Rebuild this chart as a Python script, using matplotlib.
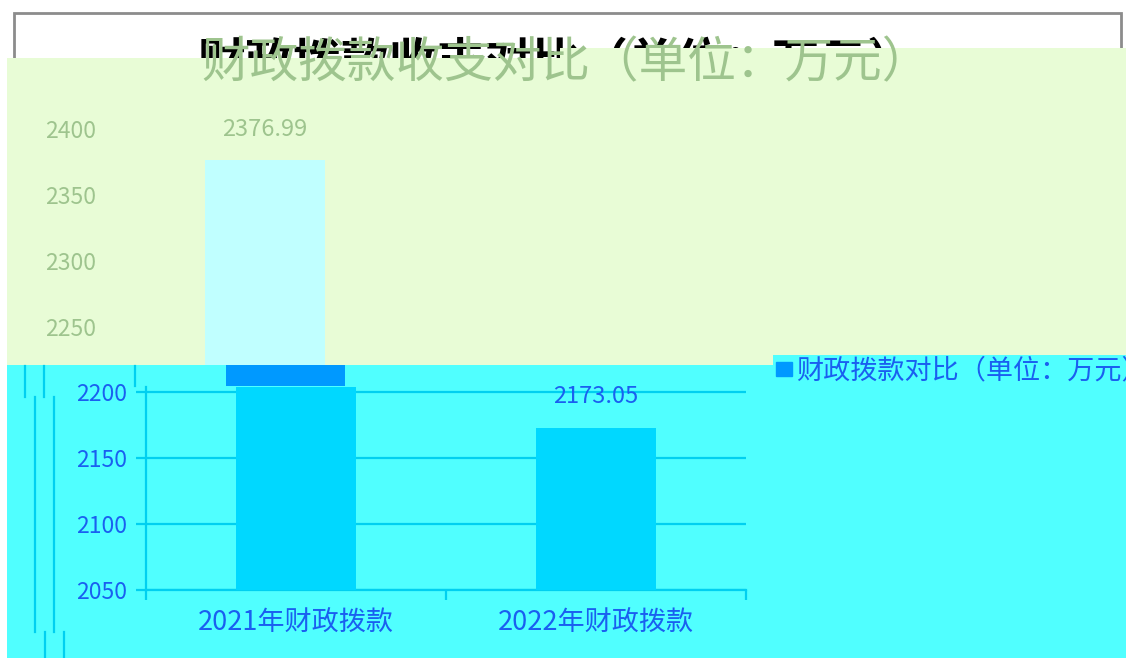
import matplotlib
matplotlib.use('Agg')
import matplotlib.pyplot as plt
from matplotlib.patches import Rectangle, Patch

plt.rcParams['font.family'] = ['Noto Sans CJK SC', 'DejaVu Sans']

# data
categories = ['2021年财政拨款', '2022年财政拨款']
values = [2376.99, 2173.05]
yticks_main = [2050, 2100, 2150, 2200]
yticks_ghost = [2250, 2300, 2350, 2400]
title = '财政拨款收支对比（单位：万元）'
series_name = '财政拨款对比（单位：万元）'

W, H = 1126, 658
cyan_bg = '#50ffff'
bar_c = '#00d8ff'
line_c = '#00d0f0'
blue_txt = '#1a5ff0'
green_bg = '#e8fcd6'
green_txt = '#9ec48e'


def fx(px):
    return px / W


def fy(py):
    return 1 - py / H


def px_axes(z):
    a = fig.add_axes([0, 0, 1, 1], zorder=z)
    a.set_xlim(0, W)
    a.set_ylim(H, 0)
    a.axis('off')
    a.patch.set_alpha(0)
    return a


fig = plt.figure(figsize=(W / 100, H / 100), dpi=100)
fig.patch.set_facecolor('white')

# back layer: frame + black title
bg = px_axes(0)
bg.add_patch(Rectangle((14, 13), 1107, 600, fill=False, ec='#8c8c8c', lw=2))
bg.text(557, 64, title, ha='center', va='center', fontsize=34.5,
        fontweight='bold', color='black')

# green layer
gp = px_axes(1)
gp.add_patch(Rectangle((7, 58), 560 - 7, 365 - 58, fc=green_bg, ec='none'))
gp.add_patch(Rectangle((560, 48), W - 560, 365 - 48, fc=green_bg, ec='none'))
gp.text(566, 64, title, ha='center', va='center', fontsize=35, color=green_txt)

# ghost chart in green layer
gx = fig.add_axes([fx(115), fy(590), fx(715) - fx(115), fy(103) - fy(590)], zorder=2)
gx.patch.set_alpha(0)
gx.set_xlim(-0.5, 1.5)
gx.set_ylim(2050, 2420)
gx.bar(range(len(values)), values, width=0.4, color='#c0ffff')
gx.annotate(f'{values[0]:.2f}', (0, values[0]), xytext=(0, 22), textcoords='offset points',
            ha='center', va='center', fontsize=17, color=green_txt)
for s in gx.spines.values():
    s.set_visible(False)
gx.set_yticks(yticks_ghost)
gx.tick_params(axis='y', length=0, pad=13.7, labelsize=16.5, labelcolor=green_txt)
gx.set_xticks([])

# cyan layer
cp = px_axes(3)
cp.add_patch(Rectangle((7, 365), W - 7, H - 365, fc=cyan_bg, ec='none'))
cp.add_patch(Rectangle((773, 355), W - 773, 10, fc=cyan_bg, ec='none'))
cp.add_patch(Rectangle((226, 365), 119, 21, fc='#0099ff', ec='none'))
for x in (25, 44, 135):
    cp.plot([x, x], [366, 397 if x < 100 else 386], color=line_c, lw=1.6)
for x in (35, 54):
    cp.plot([x, x], [397, 632], color=line_c, lw=1.6)
for x in (45, 64):
    cp.plot([x, x], [632, 658], color=line_c, lw=1.6)

# main chart
ax = fig.add_axes([fx(146), fy(590), fx(746) - fx(146), fy(387) - fy(590)], zorder=4)
ax.patch.set_alpha(0)
ax.set_xlim(-0.5, 1.5)
ax.set_ylim(2050, 2204)
ax.bar(range(len(values)), values, width=0.4, color=bar_c, zorder=3)
for i, v in enumerate(values):
    ax.annotate(f'{v:.2f}', (i, v), xytext=(0, 22.5), textcoords='offset points',
                ha='center', va='center', fontsize=17, color=blue_txt,
                annotation_clip=True)
ax.set_yticks(yticks_main)
ax.grid(axis='y', color=line_c, lw=1.6, zorder=0)
ax.spines['top'].set_visible(False)
ax.spines['right'].set_visible(False)
ax.spines['left'].set_color(line_c)
ax.spines['bottom'].set_color(line_c)
ax.spines['left'].set_linewidth(1.6)
ax.spines['bottom'].set_linewidth(1.6)
ax.tick_params(axis='y', length=7.2, width=1.6, color=line_c, pad=6.5,
               labelsize=16.5, labelcolor=blue_txt)
ax.set_xticks([-0.5, 0.5, 1.5])
ax.set_xticklabels([])
ax.set_xticks(range(len(categories)), minor=True)
ax.set_xticklabels(categories, minor=True)
ax.tick_params(axis='x', which='major', length=7.2, width=1.6, color=line_c)
ax.tick_params(axis='x', which='minor', length=0, pad=14, labelsize=19.5,
               labelcolor=blue_txt)

leg = ax.legend(handles=[Patch(color='#0099ff', label=series_name)],
                loc='center left', bbox_to_anchor=(fx(776), fy(371)),
                bbox_transform=fig.transFigure, frameon=False, fontsize=19.5,
                handlelength=0.58, handleheight=0.45, handletextpad=0.15,
                borderpad=0, borderaxespad=0)
for t in leg.get_texts():
    t.set_color(blue_txt)

fig.savefig('out.png', dpi=100)
